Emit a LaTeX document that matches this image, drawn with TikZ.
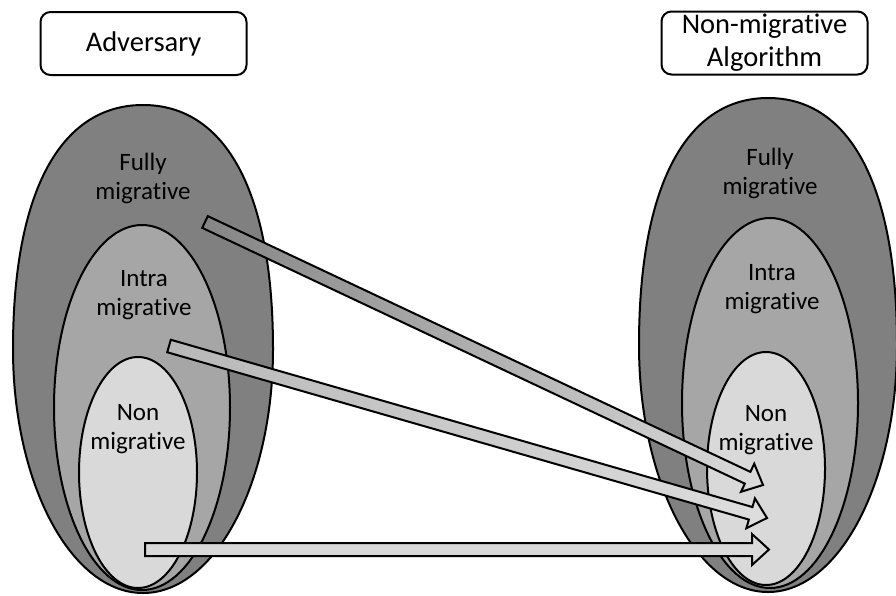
\documentclass[tikz,border=0pt]{standalone}
\usepackage{fontspec}
\setmainfont{Carlito}[Ligatures={NoCommon}]
\usetikzlibrary{shapes.geometric,calc}

\definecolor{outergray}{HTML}{808080}
\definecolor{midgray}{HTML}{A6A6A6}
\definecolor{innergray}{HTML}{D9D9D9}

\tikzset{
  labelbox/.style={draw, line width=2pt, rounded corners=10pt,
    minimum width=206pt, minimum height=63pt, inner sep=0pt,
    align=center, font=\fontsize{28.5}{33}\selectfont},
  region/.style={draw, line width=2pt, ellipse, inner sep=0pt},
  outerregion/.style={draw, line width=2pt, fill=outergray},
  regionlabel/.style={align=center, inner sep=0pt,
    font=\fontsize{25}{29}\selectfont},
  blockarrow/.style={draw, line width=2pt, line join=miter},
}

% block arrow from tail #1 to tip #2 (head base #3), extra style #4
\newcommand\drawblockarrow[4]{%
  \coordinate (#3) at ($(#2)!17pt!(#1)$);
  \path[blockarrow,#4]
    ($(#1)!6.5pt!90:(#2)$) -- ($(#3)!6.5pt!90:(#2)$) --
    ($(#3)!15.5pt!90:(#2)$) -- (#2) -- ($(#3)!15.5pt!-90:(#2)$) --
    ($(#3)!6.5pt!-90:(#2)$) -- ($(#1)!6.5pt!-90:(#2)$) -- cycle;
}

\begin{document}
\begin{tikzpicture}[x=1pt,y=-1pt]
\useasboundingbox (0,0) rectangle (896,595);

% adversary side: egg-shaped outer class, a little fuller at the top
\path[outerregion] (13,349) .. controls (13,192.8) and (59.8,105) .. (143,105)
  .. controls (226.2,105) and (273,192.8) .. (273,349)
  .. controls (273,483.8) and (214.8,593) .. (143,593)
  .. controls (71.2,593) and (13,483.8) .. (13,349) -- cycle;
\node[region, fill=midgray, minimum width=176pt, minimum height=365pt] (advintra) at (142,407.5) {};
\node[region, fill=innergray, minimum width=118pt, minimum height=231pt] (advnon) at (138,472.5) {};

% algorithm side
\path[outerregion] (639,345) .. controls (639,186.9) and (685.4,98) .. (768,98)
  .. controls (850.6,98) and (897,186.9) .. (897,345)
  .. controls (897,481.4) and (839.2,592) .. (768,592)
  .. controls (696.8,592) and (639,481.4) .. (639,345) -- cycle;
\node[region, fill=midgray, minimum width=176pt, minimum height=370pt] (algintra) at (770,403) {};
\node[region, fill=innergray, minimum width=118pt, minimum height=233pt] (algnon) at (766,468.5) {};

% region labels
\node[regionlabel] (advfulltxt) at (143,178) {Fully\\migrative};
\node[regionlabel] (advintratxt) at (144,295) {Intra\\migrative};
\node[regionlabel] (advnontxt) at (138,429) {Non\\migrative};
\node[regionlabel] (algfulltxt) at (770,173) {Fully\\migrative};
\node[regionlabel] (algintratxt) at (772,289) {Intra\\migrative};
\node[regionlabel] (algnontxt) at (766,430) {Non\\migrative};

% titles
\node[labelbox] (adversary) at (143.5,43.5) {Adversary};
\node[labelbox] (algorithm) at (764.5,43) {Non-migrative\\Algorithm};

% mappings into the non-migrative class
\coordinate (tailA) at (205,222);
\coordinate (tipA) at (763,485);
\coordinate (tailB) at (169,346);
\coordinate (tipB) at (767,518);
\coordinate (tailC) at (145,549.5);
\coordinate (tipC) at (769,549.5);

\drawblockarrow{tailA}{tipA}{baseA}{left color=black!48, right color=black!14}
\drawblockarrow{tailB}{tipB}{baseB}{left color=black!28, right color=black!13}
\drawblockarrow{tailC}{tipC}{baseC}{fill=innergray}
\end{tikzpicture}
\end{document}
